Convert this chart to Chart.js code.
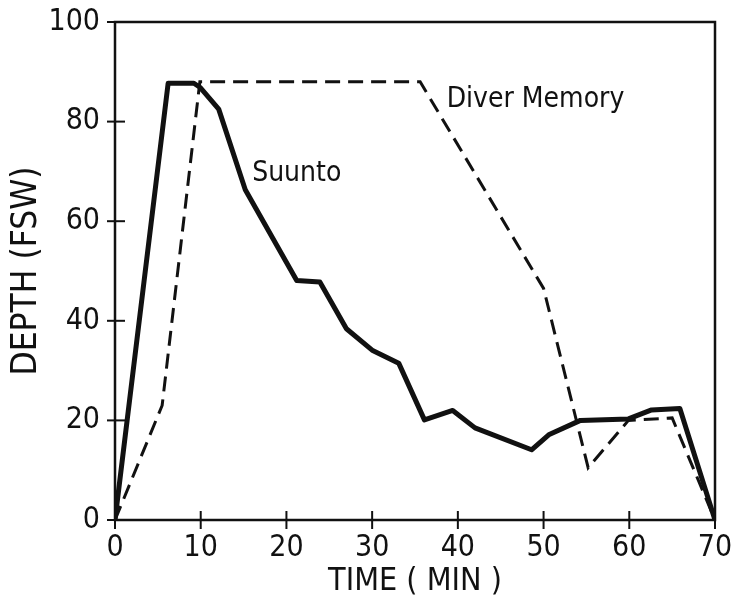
<!DOCTYPE html>
<html>
<head>
<meta charset="utf-8">
<script src="https://cdn.jsdelivr.net/npm/chart.js@4/dist/chart.umd.min.js"></script>
<style>
  html, body { margin: 0; padding: 0; background: #fff; }
  #wrap { width: 737px; height: 601px; }
</style>
</head>
<body>
<div id="wrap"><canvas id="chart" width="737" height="601"></canvas></div>
<script>
// Perfil de inmersión — Suunto vs memoria del buzo
const suuntoTime  = [0, 6.2, 9.2, 9.9, 12.1, 15.2, 21.2, 23.9, 27.0, 30.0, 33.1, 36.1, 39.4, 42.0, 48.6, 50.6, 54.3, 59.9, 62.6, 65.9, 70];
const suuntoDepth = [0, 87.7, 87.7, 86.9, 82.5, 66.3, 48.1, 47.8, 38.4, 34.1, 31.5, 20.1, 22.0, 18.5, 14.1, 17.1, 20.0, 20.3, 22.1, 22.4, 0];

const diverTime  = [0, 5.5, 9.9, 35.6, 50.0, 55.2, 59.9, 65.0, 70];
const diverDepth = [0, 23.0, 88.0, 88.0, 46.5, 10.5, 20.0, 20.5, 0];

const xTicks = [0, 10, 20, 30, 40, 50, 60, 70];
const yTicks = [0, 20, 40, 60, 80, 100];

const FONT = "'DejaVu Sans Condensed', 'Liberation Sans Narrow', sans-serif";
const INK = '#111';

const toPoints = (xs, ys) => xs.map((x, i) => ({ x, y: ys[i] }));

// marco + marcas de escala que cruzan el eje + rótulos de las series
const framePlugin = {
  id: 'frame',
  afterDraw(chart) {
    const { ctx, chartArea: a, scales: { x, y } } = chart;
    ctx.save();
    ctx.strokeStyle = INK;
    ctx.lineWidth = 2.5;
    ctx.strokeRect(a.left, a.top, a.right - a.left, a.bottom - a.top);

    ctx.lineWidth = 2;
    xTicks.forEach(v => {
      const px = x.getPixelForValue(v);
      ctx.beginPath(); ctx.moveTo(px, a.bottom - 9); ctx.lineTo(px, a.bottom + 9); ctx.stroke();
    });
    yTicks.forEach(v => {
      const py = y.getPixelForValue(v);
      ctx.beginPath(); ctx.moveTo(a.left - 8, py); ctx.lineTo(a.left + 10, py); ctx.stroke();
    });

    ctx.fillStyle = INK;
    ctx.font = `28px ${FONT}`;
    ctx.textBaseline = 'alphabetic';
    ctx.fillText('Suunto', x.getPixelForValue(16.0), y.getPixelForValue(68));
    ctx.fillText('Diver Memory', x.getPixelForValue(38.7), y.getPixelForValue(83));
    ctx.restore();
  }
};

new Chart(document.getElementById('chart'), {
  type: 'scatter',
  data: {
    datasets: [
      {
        label: 'Suunto',
        data: toPoints(suuntoTime, suuntoDepth),
        showLine: true,
        borderColor: INK,
        borderWidth: 5,
        borderJoinStyle: 'round',
        pointRadius: 0,
        tension: 0,
      },
      {
        label: 'Diver Memory',
        data: toPoints(diverTime, diverDepth),
        showLine: true,
        borderColor: INK,
        borderWidth: 3,
        borderDash: [15, 8],
        pointRadius: 0,
        tension: 0,
      },
    ],
  },
  options: {
    responsive: false,
    animation: false,
    layout: { padding: { top: 20, right: 22, left: 0, bottom: 0 } },
    plugins: { legend: { display: false }, tooltip: { enabled: false } },
    scales: {
      x: {
        type: 'linear',
        min: 0, max: 70,
        afterBuildTicks: s => { s.ticks = xTicks.map(v => ({ value: v })); },
        afterFit: s => { s.height = 81; },
        grid: { display: false },
        border: { display: false },
        ticks: { color: INK, font: { family: FONT, size: 30 }, padding: 2, maxRotation: 0 },
        title: { display: true, text: 'TIME ( MIN )', color: INK, font: { family: FONT, size: 32 }, padding: { top: 0, bottom: 0 } },
      },
      y: {
        min: 0, max: 100,
        afterBuildTicks: s => { s.ticks = yTicks.map(v => ({ value: v })); },
        afterFit: s => { s.width = 115; },
        grid: { display: false },
        border: { display: false },
        ticks: { color: INK, font: { family: FONT, size: 30, lineHeight: 1.0 }, padding: 7 },
        title: { display: true, text: 'DEPTH (FSW)', color: INK, font: { family: FONT, size: 35 }, padding: { top: 6, bottom: 4 } },
      },
    },
  },
  plugins: [framePlugin],
});
</script>
</body>
</html>
